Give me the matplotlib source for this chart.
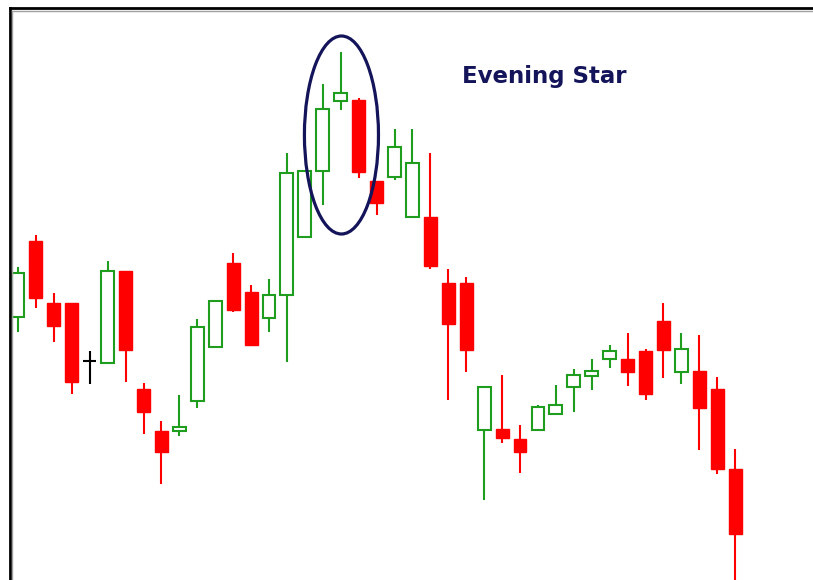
import matplotlib
matplotlib.use("Agg")
from matplotlib import pyplot as plt
from matplotlib.patches import Rectangle, Ellipse
from matplotlib.lines import Line2D

# OHLC (arbitrary price scale)
opens = [28.3, 35.9, 29.7, 29.7, 23.9, 23.7, 32.9, 21.1, 16.9, 16.9,
         19.9, 25.3, 33.7, 30.8, 28.2, 30.5, 36.3, 42.9, 49.9, 50.0,
         41.9, 42.3, 38.3, 38.3, 31.7, 31.7, 17.0, 17.1, 16.1, 17.0,
         18.6, 21.3, 22.4, 24.1, 24.1, 24.9, 27.9, 22.8, 22.9, 21.1, 13.1]
highs = [33.3, 36.5, 30.7, 29.7, 24.9, 33.9, 32.9, 21.7, 17.9, 20.5,
         28.1, 29.9, 34.7, 31.5, 32.1, 44.7, 42.9, 51.6, 54.8, 50.2,
         41.9, 47.1, 47.1, 44.7, 33.1, 32.3, 21.3, 22.5, 17.5, 19.5,
         21.5, 23.1, 24.1, 25.5, 26.7, 25.1, 29.7, 26.7, 26.5, 22.3, 15.1]
lows = [26.8, 29.2, 25.8, 20.6, 21.6, 23.7, 21.8, 16.6, 11.6, 16.4,
        19.2, 25.3, 28.8, 25.4, 26.8, 23.8, 36.3, 39.5, 49.0, 42.2,
        38.5, 42.0, 38.3, 33.1, 20.0, 22.8, 10.0, 15.7, 12.7, 17.0,
        18.6, 18.8, 21.0, 23.2, 21.4, 20.0, 22.2, 21.6, 15.0, 12.6, 1.5]
closes = [32.7, 30.2, 27.4, 21.8, 23.9, 32.9, 25.0, 18.8, 14.8, 17.3,
          27.3, 29.9, 29.0, 25.5, 30.5, 42.7, 42.9, 49.1, 50.7, 42.8,
          39.7, 45.3, 43.7, 33.4, 27.6, 25.0, 21.3, 16.2, 14.8, 19.3,
          19.5, 22.5, 22.9, 24.9, 22.8, 20.6, 25.0, 25.1, 19.2, 13.1, 6.6]

green = '#1f9d1f'
red = '#ff0000'
navy = '#14145a'

fig = plt.figure(figsize=(8.13, 5.8), dpi=100)
fig.patch.set_facecolor('white')
ax = fig.add_axes([9.5 / 813, 0, (813 - 9.5) / 813, (580 - 8) / 580])

w = 0.72
for i in range(len(opens)):
    o, h, l, c = opens[i], highs[i], lows[i], closes[i]
    if o == c:
        col = 'black'
    elif c > o:
        col = green
    else:
        col = red
    ax.vlines(i, l, h, color=col, lw=1.5, zorder=1)
    if o == c:
        ax.hlines(o, i - w / 2, i + w / 2, color=col, lw=1.5, zorder=2)
    elif c > o:
        ax.add_patch(Rectangle((i - w / 2, o), w, c - o, facecolor='white',
                               edgecolor=col, lw=1.5, zorder=2))
    else:
        ax.add_patch(Rectangle((i - w / 2, c), w, o - c, facecolor=col,
                               edgecolor=col, lw=1, zorder=2))

# circle round the evening star
ax.add_patch(Ellipse((18.04, 46.5), 4.13, 19.8, fill=False, edgecolor=navy,
                     lw=2.3, zorder=3))

ax.set_xlim(-0.474, 44.34)
ax.set_ylim(2.0, 59.2)
ax.set_xticks([])
ax.set_yticks([])
ax.spines['right'].set_visible(False)
ax.spines['bottom'].set_visible(False)
ax.spines['top'].set_linewidth(2)
ax.spines['left'].set_linewidth(2)

# thin grey inner edge
fig.add_artist(Line2D([12 / 813, 1], [1 - 10.5 / 580, 1 - 10.5 / 580], color='#a0a0a0', lw=1))
fig.add_artist(Line2D([12 / 813, 12 / 813], [0, 1 - 10.5 / 580], color='#a0a0a0', lw=1))

fig.text(462 / 813, 1 - 83.5 / 580, 'Evening Star', color=navy, fontsize=16.5,
         fontweight='bold', family='DejaVu Sans', va='baseline', ha='left')

fig.savefig('out.png', dpi=100)
